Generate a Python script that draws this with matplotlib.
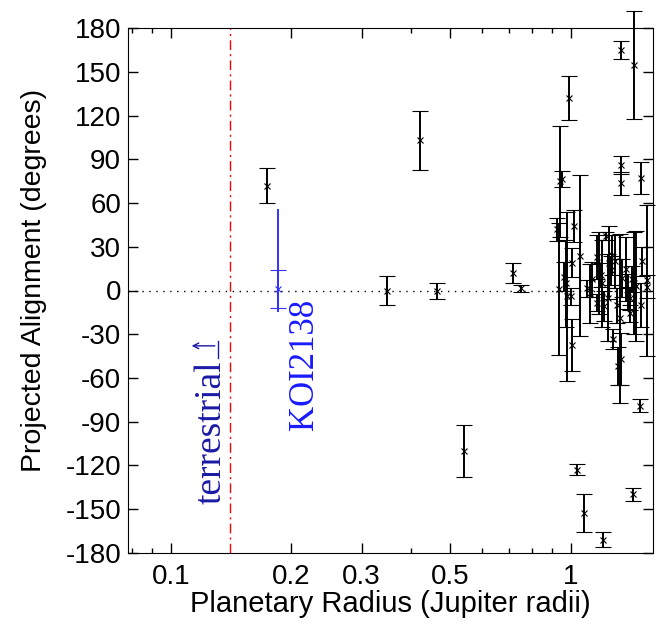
import matplotlib
matplotlib.use('Agg')
import matplotlib.pyplot as plt

# planets: radius (R_J), projected alignment (deg), lower / upper error
radius = [0.174, 0.348, 0.421, 0.462, 0.542, 0.716, 0.751, 0.990, 1.039, 1.081,
          1.202, 1.434, 1.490, 1.333, 1.439, 1.340, 1.340, 1.500,
          0.940, 0.951, 0.924, 1.019, 0.977, 1.055, 1.008, 0.960, 0.935, 1.010,
          1.005, 1.223, 1.163, 1.270, 1.250, 1.372, 1.508, 1.130, 1.190, 1.260,
          1.345, 1.424, 1.551, 1.551, 1.098, 1.163, 1.215, 1.305, 1.410, 1.500,
          1.405, 1.280, 1.335, 1.313, 1.330, 1.200, 1.460, 1.120, 1.390,
          0.975, 1.180, 1.240, 1.440, 1.290]
angle = [72, 0, 103, -0.5, -110, 12, 1.5, 132, -123, -153,
         -171, -140, -79, 165, 155, 86, 73.5, 77,
         75, 76.5, 42, 44, -4, 24, 19, 9.5, 1, -37.4,
         -4, 37.5, 22.8, 24.4, 19, 15, 20, 7.7, 10.6, 14,
         8.4, 7.7, 7, 2.6, 1.5, -8.4, -10.6, -10, -5.4, -10,
         -15.7, -33.5, -47, -52, -19, 5, 3, -2, -1,
         5, 12, -5, 5, 20]
err_lo = [12, 10, 20, 5.5, 18, 7, 2.3, 15, 3.7, 13,
          5, 4.7, 4.3, 6, 37, 6, 8, 11,
          38, 5.5, 8, 11, 58, 55, 10, 10, 45, 17.7,
          6, 3, 15, 14, 25, 22, 10, 12, 8, 10,
          13, 9, 52, 8, 6, 6, 10, 12, 8, 15,
          6, 7, 18, 13, 58, 30, 38, 20, 12,
          30, 28, 30, 35, 18]
err_hi = err_lo

# KOI2138
koi_radius = [0.185]
koi_angle = [1]
koi_err = [13]
koi_err_wide = [[16], [55]]

terrestrial_limit = 0.1405

fig = plt.figure(figsize=(6.62, 6.25), dpi=100)
plt.rcParams['font.family'] = 'Liberation Sans'
plt.rcParams['axes.unicode_minus'] = False
ax = fig.add_axes([0.1934, 0.1157, 0.793, 0.839])

ax.axhline(0, color='black', lw=1, ls=(0, (1, 4)), zorder=1)
ax.axvline(terrestrial_limit, color='red', lw=1, ls=(0, (7, 3, 1.5, 3)), zorder=1)

ax.errorbar(radius, angle, yerr=[err_lo, err_hi], fmt='x', color='black',
            ms=5, mew=0.8, elinewidth=1.4, capsize=5.5, capthick=1.4,
            clip_on=False, zorder=3)

ax.errorbar(koi_radius, koi_angle, yerr=koi_err_wide, fmt='none',
            ecolor=(0.2, 0.2, 1), elinewidth=1.4, capsize=0, zorder=3)
ax.errorbar(koi_radius, koi_angle, yerr=koi_err, fmt='x', color=(0.2, 0.2, 1),
            ms=5, mew=0.8, elinewidth=1.4, capsize=6, capthick=1.4, zorder=3)

ax.text(0.216, -50.7, 'KOI2138', rotation=90, ha='center', va='center',
        color=(0.1, 0.1, 1), fontsize=25, family='Liberation Serif')
ax.text(0.1266, -97, 'terrestrial', rotation=90, ha='center', va='center',
        color=(0.1, 0.1, 0.65), fontsize=27, family='Liberation Serif')
ax.annotate('', xy=(0.111, -38), xytext=(0.131, -38),
            arrowprops=dict(arrowstyle='->', color=(0.1, 0.1, 0.65), lw=1))
ax.plot([0.131, 0.131], [-35, -46], color=(0.1, 0.1, 0.65), lw=1)

ax.set_xscale('log')
ax.set_xlim(0.0782, 1.607)
ax.set_ylim(-180, 180)
ax.set_xticks([0.1, 0.2, 0.3, 0.5, 1])
ax.set_xticklabels(['0.1', '0.2', '0.3', '0.5', '1'])
ax.set_xticks([0.08, 0.09, 0.4, 0.6, 0.7, 0.8, 0.9], minor=True)
ax.set_xticklabels([], minor=True)
ax.set_yticks(range(-180, 181, 30))
ax.tick_params(which='both', direction='in', top=True, right=True,
               labelsize=20, width=1)
ax.tick_params(which='major', length=7)
ax.tick_params(which='minor', length=3.5)
ax.tick_params(axis='x', pad=8)
ax.tick_params(axis='y', pad=5)

ax.set_xlabel('Planetary Radius (Jupiter radii)', fontsize=21, labelpad=0)
ax.set_ylabel('Projected Alignment (degrees)', fontsize=20.5)
ax.yaxis.set_label_coords(-0.155, 0.52)

plt.savefig('out.png', dpi=100)
